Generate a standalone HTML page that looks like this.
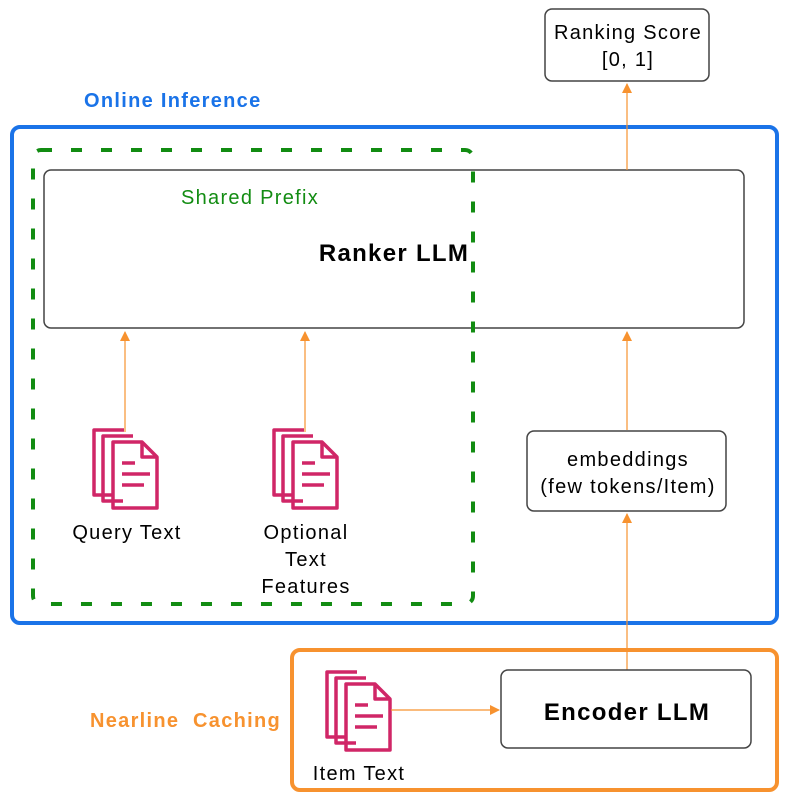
<!DOCTYPE html>
<html><head><style>
body{margin:0;background:#fff;}
text{font-family:"Liberation Sans",sans-serif;letter-spacing:1.3px;}
</style></head><body>
<svg width="789" height="805" viewBox="0 0 789 805" xmlns="http://www.w3.org/2000/svg">
<defs>
<marker id="a" markerWidth="10" markerHeight="10" refX="9" refY="5" orient="auto" markerUnits="userSpaceOnUse">
<path d="M0,0 L10,5 L0,10 z" fill="#f7922f"/></marker>
<g id="doc" fill="none" stroke="#d02667" stroke-width="3.5" stroke-linejoin="round">
<path d="M21,66 L2,66 L2,1 L32,1"/>
<path d="M31,72 L11,72 L11,7 L41,7"/>
<path d="M21,13 L50,13 L65,28 L65,79 L21,79 Z"/>
<path d="M50,13 L50,28 L65,28"/>
<path d="M30,34 L43,34 M30,45 L58,45 M30,56 L52,56"/>
</g>
</defs>
<rect x="545" y="9" width="164" height="72" rx="7" fill="#fff" stroke="#444" stroke-width="1.5"/>
<text x="628" y="39" font-size="20" text-anchor="middle">Ranking Score</text>
<text x="628" y="66" font-size="20" text-anchor="middle">[0, 1]</text>
<text x="84" y="107" font-size="20" font-weight="bold" fill="#1a73e8">Online Inference</text>
<rect x="12" y="127" width="765" height="496" rx="8" fill="none" stroke="#1a73e8" stroke-width="4"/>
<rect x="44" y="170" width="700" height="158" rx="7" fill="#fff" stroke="#444" stroke-width="1.5"/>
<rect x="33" y="150" width="440" height="454" rx="8" fill="none" stroke="#128c12" stroke-width="4" stroke-dasharray="11,19"/>
<text x="250" y="204" font-size="20" fill="#128c12" text-anchor="middle">Shared Prefix</text>
<text x="394" y="261" font-size="24" font-weight="bold" text-anchor="middle">Ranker LLM</text>
<line x1="125" y1="432" x2="125" y2="332" stroke="#f7922f" stroke-width="1.2" marker-end="url(#a)"/>
<line x1="305" y1="432" x2="305" y2="332" stroke="#f7922f" stroke-width="1.2" marker-end="url(#a)"/>
<line x1="627" y1="430" x2="627" y2="332" stroke="#f7922f" stroke-width="1.2" marker-end="url(#a)"/>
<line x1="627" y1="170" x2="627" y2="84" stroke="#f7922f" stroke-width="1.2" marker-end="url(#a)"/>
<line x1="627" y1="670" x2="627" y2="514" stroke="#f7922f" stroke-width="1.2" marker-end="url(#a)"/>
<use href="#doc" x="92" y="429"/>
<use href="#doc" x="272" y="429"/>
<text x="127" y="539" font-size="20" text-anchor="middle">Query Text</text>
<text x="306" y="539" font-size="20" text-anchor="middle">Optional</text>
<text x="306" y="566" font-size="20" text-anchor="middle">Text</text>
<text x="306" y="593" font-size="20" text-anchor="middle">Features</text>
<rect x="527" y="431" width="199" height="80" rx="7" fill="#fff" stroke="#444" stroke-width="1.5"/>
<text x="628" y="466" font-size="20" text-anchor="middle">embeddings</text>
<text x="628" y="493" font-size="20" text-anchor="middle">(few tokens/Item)</text>
<rect x="292" y="650" width="485" height="140" rx="8" fill="none" stroke="#f7922f" stroke-width="4"/>
<text x="90" y="727" font-size="20" font-weight="bold" fill="#f7922f" xml:space="preserve">Nearline  Caching</text>
<use href="#doc" x="325" y="671"/>
<text x="359" y="780" font-size="20" text-anchor="middle">Item Text</text>
<line x1="391" y1="710" x2="499" y2="710" stroke="#f7922f" stroke-width="1.2" marker-end="url(#a)"/>
<rect x="501" y="670" width="250" height="78" rx="7" fill="#fff" stroke="#444" stroke-width="1.5"/>
<text x="627" y="720" font-size="24" font-weight="bold" text-anchor="middle">Encoder LLM</text>
</svg>
</body></html>
